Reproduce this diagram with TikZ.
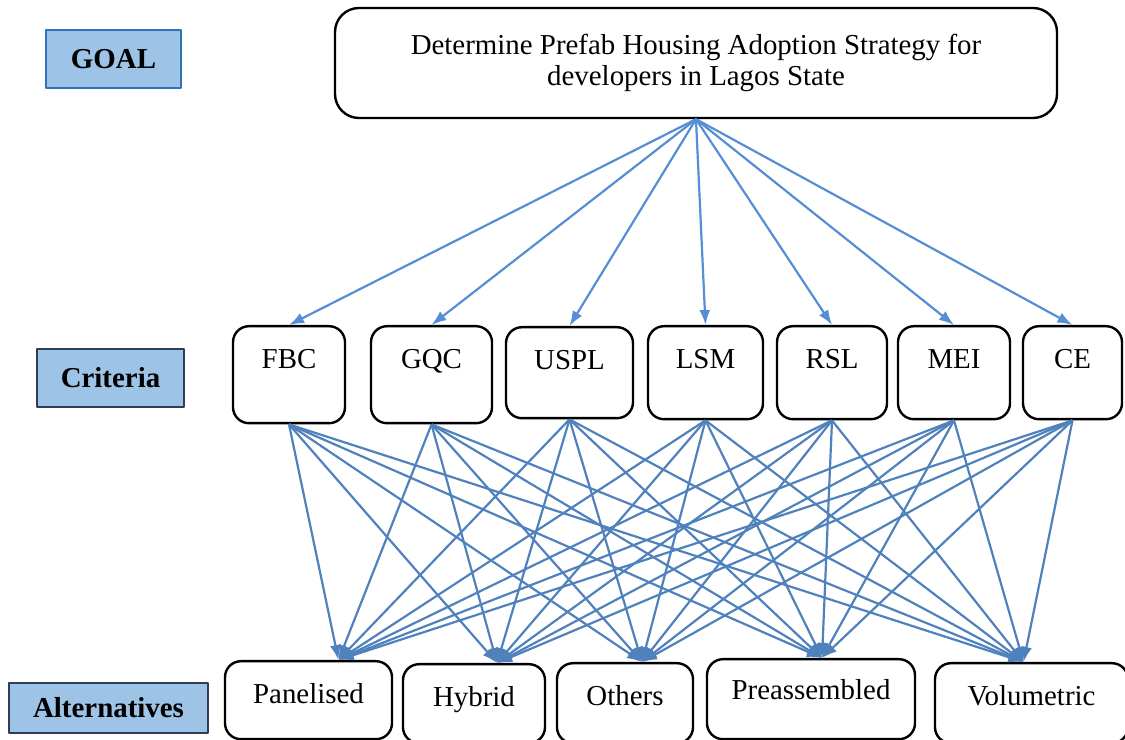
\documentclass[tikz,border=0pt]{standalone}
\usepackage{fontspec}
\setmainfont{Liberation Serif}
\usetikzlibrary{arrows.meta}

\definecolor{labelfill}{HTML}{9DC3E6}
\definecolor{goalframe}{HTML}{2E75B6}
\definecolor{labelframe}{HTML}{2F3D55}
\definecolor{topblue}{HTML}{558ED5}
\definecolor{altblue}{HTML}{4F81BD}

\begin{document}
\begin{tikzpicture}[>={Latex[length=15bp,width=11bp]},line join=bevel,
  every node/.style={font=\fontsize{29}{32}\selectfont},
  levelbox/.style={draw=labelframe,fill=labelfill,line width=1.5bp,inner sep=0bp,font=\fontsize{29}{32}\selectfont\bfseries},
  goalbox/.style={draw,rounded corners=24bp,line width=2.4bp,align=center,inner sep=0bp},
  itembox/.style={draw,rounded corners=16bp,line width=2.4bp,anchor=north,inner sep=0bp,text height=42bp},
  toplink/.style={topblue,line width=2.2bp,->},
  altlink/.style={altblue,line width=2.2bp,->}]
\useasboundingbox (0bp,0bp) rectangle (1125bp,740bp);
%%
\node (goallabel) at (113.5bp,681bp) [levelbox,draw=goalframe] [minimum width=135bp,minimum height=58bp] {GOAL};
  \node (critlabel) at (110.5bp,362bp) [levelbox,minimum width=147bp,minimum height=58bp] {Criteria};
  \node (altlabel) at (108.5bp,32bp) [levelbox,minimum width=199bp,minimum height=50bp] {Alternatives};
  \node (goal) at (696bp,677bp) [goalbox,minimum width=722bp,minimum height=110bp] {Determine Prefab Housing Adoption Strategy for\\developers in Lagos State};
  \node (FBC) at (289bp,415bp) [itembox,minimum width=112bp,text depth=55bp] {FBC};
  \node (GQC) at (431.5bp,415bp) [itembox,minimum width=121bp,text depth=55bp] {GQC};
  \node (USPL) at (569.5bp,414bp) [itembox,minimum width=127bp,text depth=49bp] {USPL};
  \node (LSM) at (705.5bp,415bp) [itembox,minimum width=115bp,text depth=51bp] {LSM};
  \node (RSL) at (832bp,415bp) [itembox,minimum width=110bp,text depth=51bp] {RSL};
  \node (MEI) at (954bp,415bp) [itembox,minimum width=112bp,text depth=51bp] {MEI};
  \node (CE) at (1072.5bp,415bp) [itembox,minimum width=99bp,text depth=51bp] {CE};
  \node (Panelised) at (308.5bp,80bp) [itembox,minimum width=167bp,text depth=36bp] {Panelised};
  \node (Hybrid) at (474bp,77bp) [itembox,minimum width=142bp,text depth=37bp] {Hybrid};
  \node (Others) at (625bp,78bp) [itembox,minimum width=136bp,text depth=38bp] {Others};
  \node (Preassembled) at (811bp,82bp) [itembox,minimum width=208bp,text height=40bp,text depth=40bp] {Preassembled};
  \node (Volumetric) at (1031.5bp,78bp) [itembox,minimum width=193bp,text depth=38bp] {Volumetric};
  \coordinate (Panelised-in) at ([xshift=30bp]Panelised.north);
  \coordinate (Hybrid-in) at ([xshift=23bp]Hybrid.north);
  \coordinate (Others-in) at ([xshift=17bp]Others.north);
  \coordinate (Preassembled-in) at ([xshift=11bp]Preassembled.north);
  \coordinate (Volumetric-in) at ([xshift=-8bp]Volumetric.north);
  \draw [toplink] (goal.south) -- (FBC.north);
  \draw [toplink] (goal.south) -- (GQC.north);
  \draw [toplink] (goal.south) -- (USPL.north);
  \draw [toplink] (goal.south) -- (LSM.north);
  \draw [toplink] (goal.south) -- (RSL.north);
  \draw [toplink] (goal.south) -- (MEI.north);
  \draw [toplink] (goal.south) -- (CE.north);
  \draw [altlink] (FBC.south) -- (Panelised-in);
  \draw [altlink] (FBC.south) -- (Hybrid-in);
  \draw [altlink] (FBC.south) -- (Others-in);
  \draw [altlink] (FBC.south) -- (Preassembled-in);
  \draw [altlink] (FBC.south) -- (Volumetric-in);
  \draw [altlink] (GQC.south) -- (Panelised-in);
  \draw [altlink] (GQC.south) -- (Hybrid-in);
  \draw [altlink] (GQC.south) -- (Others-in);
  \draw [altlink] (GQC.south) -- (Preassembled-in);
  \draw [altlink] (GQC.south) -- (Volumetric-in);
  \draw [altlink] (USPL.south) -- (Panelised-in);
  \draw [altlink] (USPL.south) -- (Hybrid-in);
  \draw [altlink] (USPL.south) -- (Others-in);
  \draw [altlink] (USPL.south) -- (Preassembled-in);
  \draw [altlink] (USPL.south) -- (Volumetric-in);
  \draw [altlink] (LSM.south) -- (Panelised-in);
  \draw [altlink] (LSM.south) -- (Hybrid-in);
  \draw [altlink] (LSM.south) -- (Others-in);
  \draw [altlink] (LSM.south) -- (Preassembled-in);
  \draw [altlink] (LSM.south) -- (Volumetric-in);
  \draw [altlink] (RSL.south) -- (Panelised-in);
  \draw [altlink] (RSL.south) -- (Hybrid-in);
  \draw [altlink] (RSL.south) -- (Others-in);
  \draw [altlink] (RSL.south) -- (Preassembled-in);
  \draw [altlink] (RSL.south) -- (Volumetric-in);
  \draw [altlink] (MEI.south) -- (Panelised-in);
  \draw [altlink] (MEI.south) -- (Hybrid-in);
  \draw [altlink] (MEI.south) -- (Others-in);
  \draw [altlink] (MEI.south) -- (Preassembled-in);
  \draw [altlink] (MEI.south) -- (Volumetric-in);
  \draw [altlink] (CE.south) -- (Panelised-in);
  \draw [altlink] (CE.south) -- (Hybrid-in);
  \draw [altlink] (CE.south) -- (Others-in);
  \draw [altlink] (CE.south) -- (Preassembled-in);
  \draw [altlink] (CE.south) -- (Volumetric-in);
%
\end{tikzpicture}
\end{document}
